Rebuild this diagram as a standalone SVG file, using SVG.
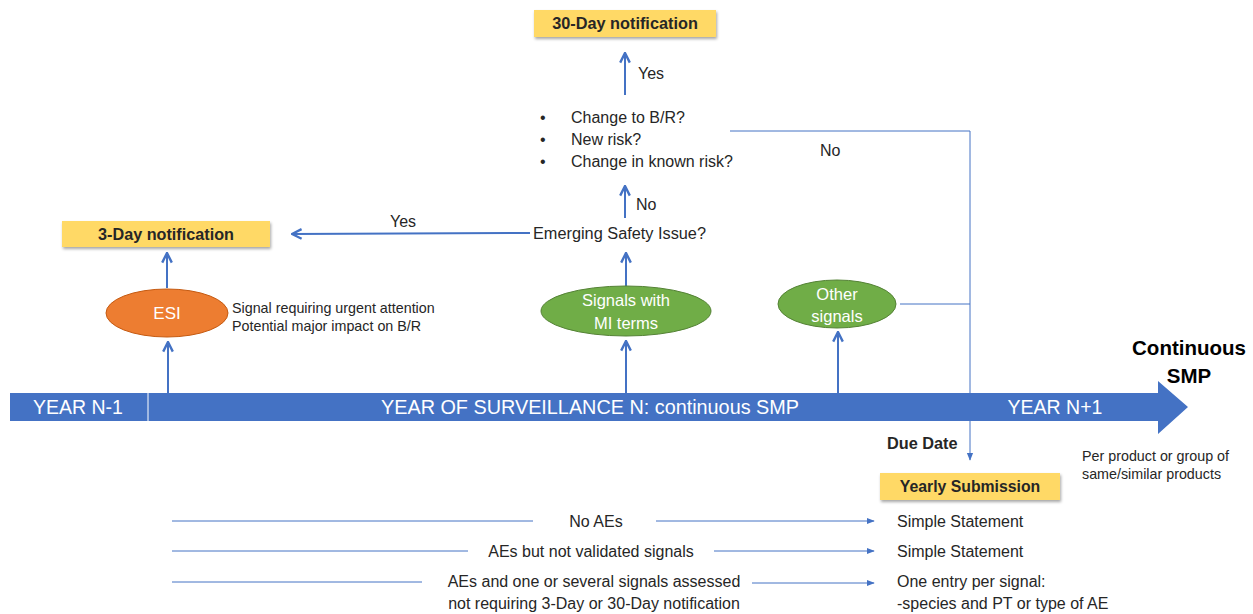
<svg xmlns="http://www.w3.org/2000/svg" width="1253" height="614" viewBox="0 0 1253 614">
<style>
text{font-family:"Liberation Sans",Arial,sans-serif;fill:#262626}
.t{font-size:16px}
.s{font-size:14.3px}
.b{font-weight:bold}
.w{fill:#fff}
.box{fill:#FFD966}
.thick{stroke:#4472C4;stroke-width:2;fill:none}
.thin{stroke:#4472C4;stroke-width:1;fill:none}
</style>
<defs>
<marker id="chevB" viewBox="0 0 10 10" refX="9" refY="5" markerWidth="12" markerHeight="12" orient="auto" markerUnits="userSpaceOnUse">
<path d="M1,1 L9,5 L1,9" fill="none" stroke="#4472C4" stroke-width="2"/>
</marker>
<marker id="tri" viewBox="0 0 10 10" refX="9" refY="5" markerWidth="8" markerHeight="8" orient="auto" markerUnits="userSpaceOnUse">
<path d="M0,1 L10,5 L0,9 Z" fill="#4472C4"/>
</marker>
<filter id="sh" x="-10%" y="-20%" width="120%" height="150%">
<feDropShadow dx="1" dy="2" stdDeviation="1.5" flood-color="#000" flood-opacity="0.35"/>
</filter>
</defs>

<g id="timeline">
<path d="M10,393 L1158,393 L1158,381 L1188,407 L1158,434 L1158,421 L10,421 Z" fill="#4472C4"/>
<line x1="148" y1="393" x2="148" y2="421" stroke="#fff" stroke-width="1"/>
<text x="78" y="414" class="w" font-size="19.5" text-anchor="middle">YEAR N-1</text>
<text x="590" y="414" class="w" font-size="19.5" text-anchor="middle" textLength="418" lengthAdjust="spacingAndGlyphs">YEAR OF SURVEILLANCE N: continuous SMP</text>
<text x="1055" y="414" class="w" font-size="19.5" text-anchor="middle">YEAR N+1</text>
</g>

<g id="connectors">
<line x1="168" y1="393" x2="168" y2="342" class="thick" marker-end="url(#chevB)"/>
<line x1="167" y1="288" x2="167" y2="253" class="thick" marker-end="url(#chevB)"/>
<line x1="626" y1="393" x2="626" y2="341" class="thick" marker-end="url(#chevB)"/>
<line x1="626" y1="286" x2="626" y2="253" class="thick" marker-end="url(#chevB)"/>
<line x1="838" y1="393" x2="838" y2="332" class="thick" marker-end="url(#chevB)"/>
<line x1="530" y1="233" x2="292" y2="234" class="thick" marker-end="url(#chevB)"/>
<line x1="625" y1="218" x2="625" y2="186" class="thick" marker-end="url(#chevB)"/>
<line x1="625" y1="95" x2="625" y2="53" class="thick" marker-end="url(#chevB)"/>
<polyline points="730,131 970,131 970,460" class="thin" marker-end="url(#tri)"/>
<line x1="900" y1="304" x2="970" y2="304" class="thin"/>
<line x1="172" y1="521" x2="533" y2="521" class="thin"/>
<line x1="656" y1="521" x2="874" y2="521" class="thin" marker-end="url(#tri)"/>
<line x1="172" y1="551" x2="468" y2="551" class="thin"/>
<line x1="714" y1="551" x2="874" y2="551" class="thin" marker-end="url(#tri)"/>
<line x1="172" y1="582" x2="422" y2="582" class="thin"/>
<line x1="752" y1="583" x2="874" y2="583" class="thin" marker-end="url(#tri)"/>
<text x="403" y="227" class="t" text-anchor="middle">Yes</text>
<text x="636" y="210" class="t">No</text>
<text x="638" y="79" class="t">Yes</text>
<text x="820" y="156" class="t">No</text>
</g>

<g id="n30day">
<rect x="534" y="10" width="182" height="27" class="box" filter="url(#sh)"/>
<text x="625" y="29" class="b" font-size="16.3" text-anchor="middle">30-Day notification</text>
</g>

<g id="questions">
<text x="540" y="123" class="t">•</text>
<text x="571" y="123" class="t">Change to B/R?</text>
<text x="540" y="145" class="t">•</text>
<text x="571" y="145" class="t">New risk?</text>
<text x="540" y="167" class="t">•</text>
<text x="571" y="167" class="t">Change in known risk?</text>
</g>

<g id="esi-question">
<text x="533" y="239" class="t" textLength="173" lengthAdjust="spacingAndGlyphs">Emerging Safety Issue?</text>
</g>

<g id="n3day">
<rect x="62" y="221" width="208" height="26" class="box" filter="url(#sh)"/>
<text x="166" y="240" class="b" font-size="16.2" text-anchor="middle">3-Day notification</text>
</g>

<g id="esi">
<ellipse cx="167" cy="313" rx="61" ry="24" fill="#ED7D31" stroke="#C55A11" stroke-width="1"/>
<text x="167" y="319" class="w" font-size="17" text-anchor="middle">ESI</text>
<text x="232" y="313" class="s">Signal requiring urgent attention</text>
<text x="232" y="331" class="s">Potential major impact on B/R</text>
</g>

<g id="mi-signals">
<ellipse cx="626" cy="311" rx="85" ry="25" fill="#70AD47" stroke="#548235" stroke-width="1"/>
<text x="626" y="306" class="w" font-size="16.5" text-anchor="middle">Signals with</text>
<text x="626" y="329" class="w" font-size="16.5" text-anchor="middle">MI terms</text>
</g>

<g id="other-signals">
<ellipse cx="837" cy="304" rx="59" ry="24" fill="#70AD47" stroke="#548235" stroke-width="1"/>
<text x="837" y="300" class="w" font-size="16.5" text-anchor="middle">Other</text>
<text x="837" y="322" class="w" font-size="16.5" text-anchor="middle">signals</text>
</g>

<g id="continuous-smp">
<text x="1189" y="355" class="b" font-size="20.5" text-anchor="middle" style="fill:#000">Continuous</text>
<text x="1189" y="383" class="b" font-size="20.5" text-anchor="middle" style="fill:#000">SMP</text>
</g>

<g id="due-date">
<text x="887" y="449" class="b" font-size="16.3">Due Date</text>
</g>

<g id="per-product">
<text x="1082" y="461" class="s">Per product or group of</text>
<text x="1082" y="479" class="s">same/similar products</text>
</g>

<g id="yearly">
<rect x="880" y="473" width="180" height="27" class="box" filter="url(#sh)"/>
<text x="970" y="492" class="b" font-size="15.8" text-anchor="middle">Yearly Submission</text>
</g>

<g id="rows">
<text x="596" y="527" class="t" text-anchor="middle">No AEs</text>
<text x="897" y="527" class="t">Simple Statement</text>
<text x="591" y="557" class="t" text-anchor="middle">AEs but not validated signals</text>
<text x="897" y="557" class="t">Simple Statement</text>
<text x="594" y="587" class="t" text-anchor="middle">AEs and one or several signals assessed</text>
<text x="594" y="609" class="t" text-anchor="middle">not requiring 3-Day or 30-Day notification</text>
<text x="897" y="587" class="t">One entry per signal:</text>
<text x="897" y="609" class="t">-species and PT or type of AE</text>
</g>
</svg>
